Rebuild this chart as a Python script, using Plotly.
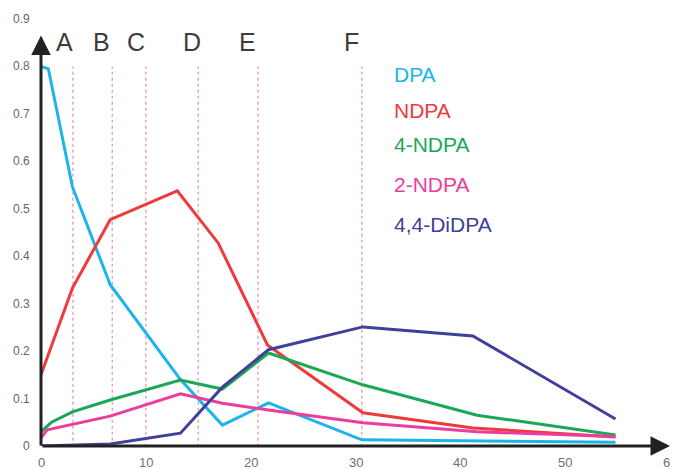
import plotly.graph_objects as go

# ---- data ----
dpa_x = [0, 0.7, 3.0, 6.6, 13.3, 17.3, 21.7, 30.6, 54.8]
dpa_y = [0.80, 0.795, 0.546, 0.34, 0.14, 0.044, 0.091, 0.013, 0.008]

ndpa_x = [0, 3.0, 6.6, 13.0, 16.9, 21.6, 30.7, 41.2, 54.8]
ndpa_y = [0.15, 0.333, 0.477, 0.538, 0.428, 0.213, 0.07, 0.038, 0.019]

n4_x = [0, 1.0, 3.0, 6.6, 13.3, 17.3, 21.7, 30.7, 41.6, 54.8]
n4_y = [0.03, 0.05, 0.072, 0.097, 0.139, 0.12, 0.196, 0.129, 0.065, 0.023]

n2_x = [0, 0.6, 6.6, 13.3, 17.3, 21.7, 30.7, 41.6, 54.8]
n2_y = [0.017, 0.034, 0.063, 0.11, 0.09, 0.076, 0.049, 0.03, 0.02]

didpa_x = [0, 6.6, 13.3, 17.3, 21.7, 30.7, 41.2, 54.8]
didpa_y = [0.0, 0.004, 0.027, 0.124, 0.203, 0.251, 0.232, 0.057]

names = ["DPA", "NDPA", "4-NDPA", "2-NDPA", "4,4-DiDPA"]
colors = ["#1CB4EA", "#EE3A3A", "#1BA856", "#EC3C9C", "#40409A"]

marker_labels = ["A", "B", "C", "D", "E", "F"]
marker_lines_x = [3.05, 6.8, 10.0, 15.0, 20.7, 30.6]
marker_label_x = [2.2, 5.8, 9.1, 14.4, 19.7, 29.6]

legend_y = [0.783, 0.707, 0.635, 0.551, 0.466]

x_ticks = [0, 10, 20, 30, 40, 50, 60]
x_tick_text = ["0", "10", "20", "30", "40", "50", "60"]
y_ticks = [0, 0.1, 0.2, 0.3, 0.4, 0.5, 0.6, 0.7, 0.8, 0.9]
y_tick_text = ["0", "0.1", "0.2", "0.3", "0.4", "0.5", "0.6", "0.7", "0.8", "0.9"]

fig = go.Figure()

# dotted vertical markers
for xv in marker_lines_x:
    fig.add_shape(type="line", x0=xv, x1=xv, y0=-0.014, y1=0.8,
                  line=dict(color="#EBA3BC", width=1.5, dash="dot"), layer="below")

series = [(dpa_x, dpa_y), (ndpa_x, ndpa_y), (n4_x, n4_y), (n2_x, n2_y), (didpa_x, didpa_y)]
for (xs, ys), nm, c in zip(series, names, colors):
    fig.add_trace(go.Scatter(x=xs, y=ys, mode="lines", name=nm,
                             line=dict(color=c, width=3), cliponaxis=False))

# axes with arrows
fig.add_annotation(x=60, y=0, ax=0, ay=0, axref="x", ayref="y", xref="x", yref="y",
                   text="", showarrow=True, arrowhead=2, arrowsize=1.3, arrowwidth=3,
                   arrowcolor="#222222")
fig.add_annotation(x=0, y=0.865, ax=0, ay=-0.002, axref="x", ayref="y", xref="x", yref="y",
                   text="", showarrow=True, arrowhead=2, arrowsize=1.3, arrowwidth=3,
                   arrowcolor="#222222")

# tick labels placed on the axis scales
for xv, t in zip(x_ticks, x_tick_text):
    fig.add_annotation(x=xv, y=0, xref="x", yref="y", text=t, showarrow=False,
                       yanchor="middle", yshift=-16, borderpad=0,
                       font=dict(family="Liberation Sans, Arial", size=13, color="#707070"))
for yv, t in zip(y_ticks, y_tick_text):
    fig.add_annotation(x=0, y=yv, xref="x", yref="y", text=t, showarrow=False,
                       xanchor="right", xshift=-10, borderpad=0,
                       font=dict(family="Liberation Sans, Arial", size=12, color="#666666"))

for lbl, xv in zip(marker_labels, marker_label_x):
    fig.add_annotation(x=xv, y=0.852, xref="x", yref="y", text=lbl, showarrow=False,
                       font=dict(family="Liberation Sans, Arial", size=25, color="#3c3c3c"))

for nm, c, yv in zip(names, colors, legend_y):
    fig.add_annotation(x=33.5, y=yv, xref="x", yref="y", text=nm, showarrow=False,
                       xanchor="left", font=dict(family="Liberation Sans, Arial", size=21, color=c))

fig.update_layout(
    width=670, height=461,
    margin=dict(l=33, r=8, t=11, b=23, autoexpand=False),
    paper_bgcolor="white", plot_bgcolor="white",
    showlegend=False,
    xaxis=dict(range=[0, 60], showgrid=False, zeroline=False, showline=False,
               ticks="", showticklabels=False),
    yaxis=dict(range=[0, 0.9], showgrid=False, zeroline=False, showline=False,
               ticks="", showticklabels=False),
)

fig.write_html("out.html")
